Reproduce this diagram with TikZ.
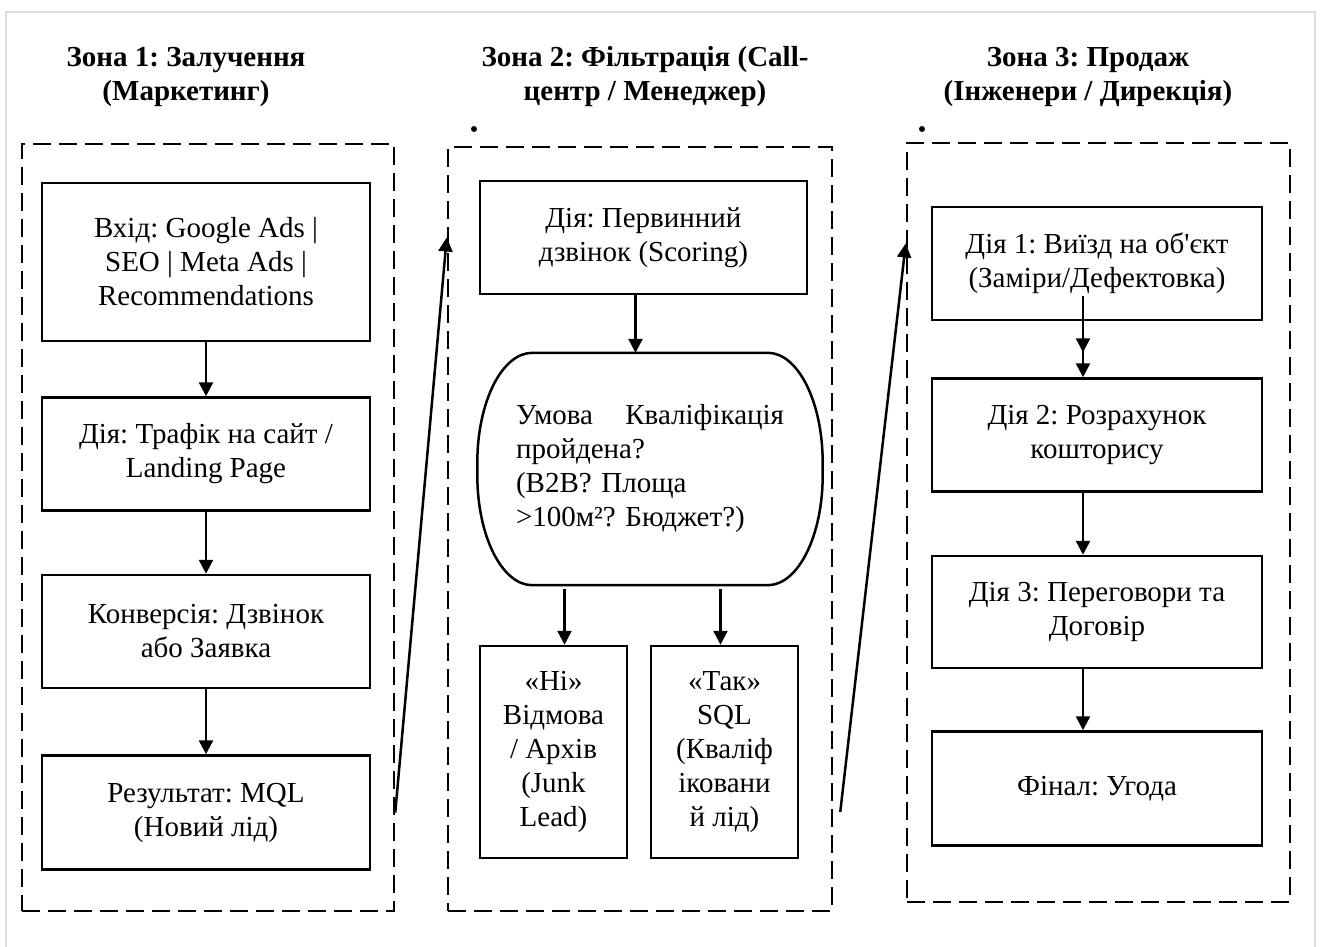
\documentclass[tikz,border=0pt]{standalone}
\usepackage{fontspec}
\setmainfont{Liberation Serif}
\frenchspacing
\usetikzlibrary{positioning,calc,arrows.meta}
\definecolor{framegray}{RGB}{222,222,222}

\begin{document}
\begin{tikzpicture}[
    x=1pt, y=1pt,
    every node/.style={font=\fontsize{29}{34}\selectfont},
    title/.style={align=center, font=\fontsize{29}{34}\selectfont\bfseries},
    box/.style={rectangle, draw=black, line width=2.5pt, minimum width=328pt, minimum height=113pt, align=center, inner sep=4pt},
    smallbox/.style={box, minimum width=147pt, minimum height=212pt},
    decision/.style={rectangle, minimum width=345pt, minimum height=232pt, text width=268pt, align=left},
    zone/.style={rectangle, draw=black, line width=2.5pt, dash pattern=on 18pt off 8pt},
    arrow/.style={-{Triangle[length=14pt,width=14pt]}, line width=2.5pt, black}
]
\useasboundingbox (0,0) rectangle (1320,-947);

% Frame
\draw[framegray, line width=2.5pt] (6,-947) -- (6,-12) -- (1315,-12) -- (1315,-947);

% Titles
\node[title] (title1) at (186,-77) {Зона 1: Залучення\\(Маркетинг)};
\node[title] (title2) at (645,-77) {Зона 2: Фільтрація (Call-\\центр / Менеджер)};
\node[title] (title3) at (1088,-77) {Зона 3: Продаж\\(Інженери / Дирекція)};
\fill (474,-129) circle (3pt);
\fill (922,-129) circle (3pt);

% Zones
\node[zone, minimum width=372pt, minimum height=767pt] (zone1) at (208,-527.5) {};
\node[zone, minimum width=384pt, minimum height=764pt] (zone2) at (640,-529) {};
\node[zone, minimum width=383pt, minimum height=759pt] (zone3) at (1098.5,-522.5) {};

% Zone 1
\node[box, minimum height=158pt] (input) at (206,-262) {Вхід: Google Ads |\\SEO | Meta Ads |\\Recommendations};
\node[box, below=54pt of input] (traffic) {Дія: Трафік на сайт /\\Landing Page};
\node[box, below=62pt of traffic] (conversion) {Конверсія: Дзвінок\\або Заявка};
\node[box, minimum height=114pt, below=65pt of conversion] (mql) {Результат: MQL\\(Новий лід)};

% Zone 2
\node[box, minimum width=327pt] (call) at (643.5,-237.5) {Дія: Первинний\\дзвінок (Scoring)};
\node[decision] (check) at (650,-469) {Умова\hfill Кваліфікація\\пройдена?\\(B2B? Площа\\>100м²? Бюджет?)};
\draw[line width=2.5pt] ([xshift=55pt]check.north west) -- ([xshift=-55pt]check.north east)
    arc[start angle=90, end angle=0, x radius=55pt, y radius=110pt]
    -- ([yshift=110pt]check.south east)
    arc[start angle=0, end angle=-90, x radius=55pt, y radius=110pt]
    -- ([xshift=55pt]check.south west)
    arc[start angle=270, end angle=180, x radius=55pt, y radius=110pt]
    -- ([yshift=-110pt]check.north west)
    arc[start angle=180, end angle=90, x radius=55pt, y radius=110pt] -- cycle;
\node[smallbox] (no) at (553.5,-752) {«Ні»\\Відмова\\/ Архів\\(Junk\\Lead)};
\node[smallbox] (yes) at (724.5,-752) {«Так»\\SQL\\(Кваліф\\іковани\\й лід)};

% Zone 3
\node[box, minimum width=330pt] (visit) at (1097,-263.5) {Дія 1: Виїзд на об\textquotesingle єкт\\(Заміри/Дефектовка)};
\node[box, minimum width=330pt, below=56pt of visit] (estimate) {Дія 2: Розрахунок\\кошторису};
\node[box, minimum width=330pt, minimum height=112pt, below=62pt of estimate] (contract) {Дія 3: Переговори та\\Договір};
\node[box, minimum width=330pt, minimum height=114pt, below=61pt of contract] (deal) {Фінал: Угода};

% Links between zones
\coordinate (out1) at (mql.east -| zone1.east);
\coordinate (in2) at (call.west -| zone2.west);
\coordinate (out2) at ($(yes.east -| zone2.east)+(7pt,-60pt)$);
\coordinate (in3) at ($(visit.west -| zone3.west)+(0,20pt)$);

% Arrows
\draw[arrow] (input) -- (traffic);
\draw[arrow] (traffic) -- (conversion);
\draw[arrow] (conversion) -- (mql);
\draw[arrow] (out1) -- (in2);

\draw[arrow] ([xshift=-8pt]call.south) -- ([xshift=-8pt]call.south |- check.north);
\draw[arrow] ([xshift=11pt,yshift=-4pt]no.north |- check.south) -- ([xshift=11pt]no.north);
\draw[arrow] ([xshift=-4pt,yshift=-4pt]yes.north |- check.south) -- ([xshift=-4pt]yes.north);
\draw[arrow] (out2) -- (in3);

\draw[arrow] ([xshift=-14pt,yshift=25pt]visit.south) -- ++(0,-56pt);
\draw[arrow] ([xshift=-14pt,yshift=-25pt]visit.south) -- ([xshift=-14pt]estimate.north);
\draw[arrow] ([xshift=-14pt]estimate.south) -- ([xshift=-14pt]contract.north);
\draw[arrow] ([xshift=-14pt]contract.south) -- ([xshift=-14pt]deal.north);

\end{tikzpicture}
\end{document}
